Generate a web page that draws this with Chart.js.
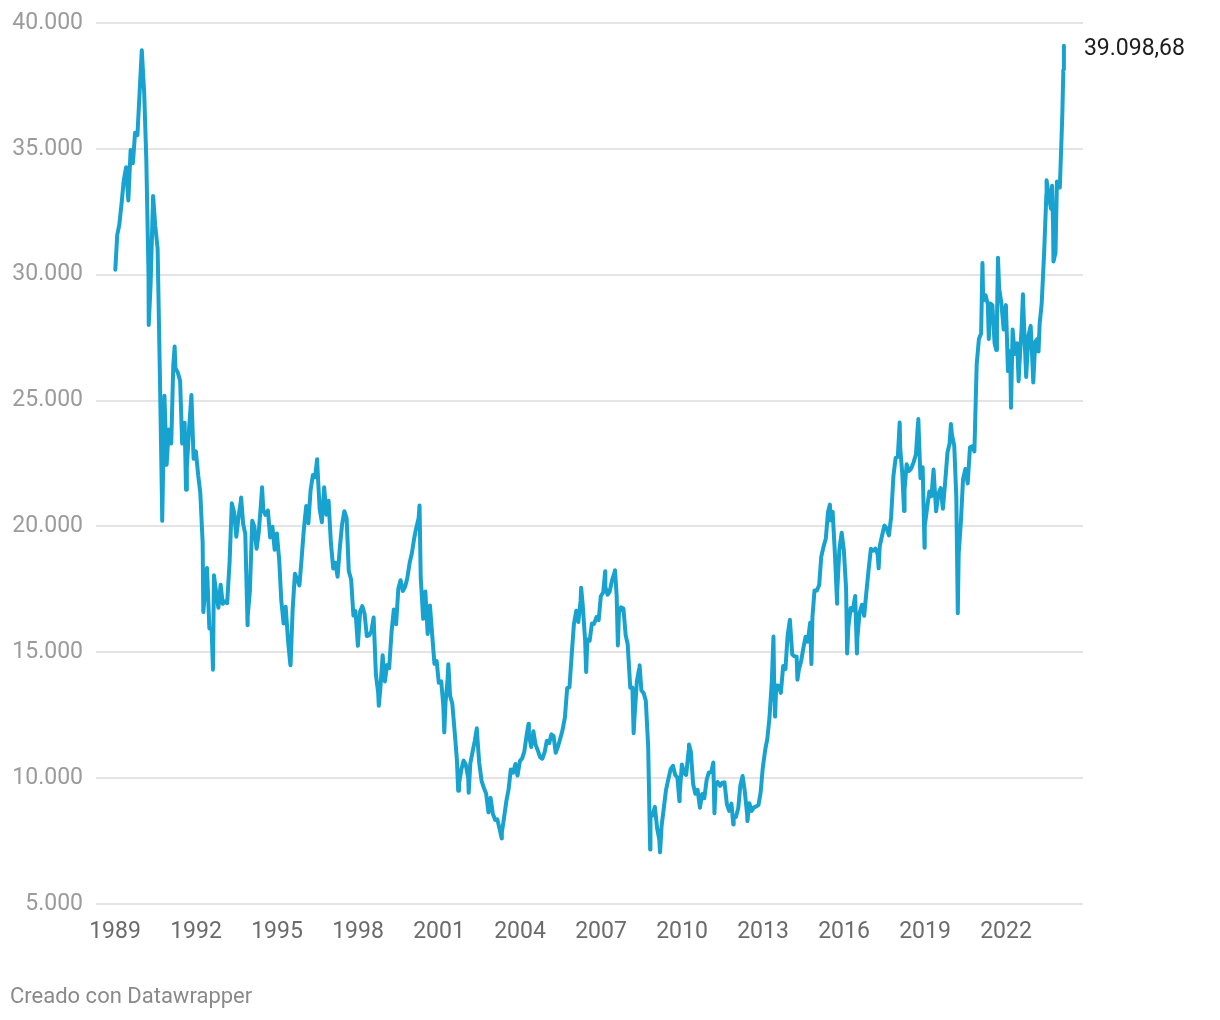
<!DOCTYPE html>
<html>
<head>
<meta charset="utf-8">
<script src="https://cdn.jsdelivr.net/npm/chart.js@4"></script>
<style>
  html, body { margin: 0; padding: 0; background: #ffffff; }
  #wrap { position: relative; width: 1220px; height: 1020px; }
  #footer { position: absolute; left: 10px; top: 984px; font-family: Roboto, "Noto Sans", sans-serif; font-size: 22px; line-height: 24px; color: #8a8a8a; }
</style>
</head>
<body>
<div id="wrap">
  <canvas id="c" width="1220" height="1020"></canvas>
  <div id="footer">Creado con Datawrapper</div>
</div>
<script>
// ---- Data (Nikkei 225) ----
const dates = [
"1989-01-05","1989-01-31","1989-02-28","1989-03-31","1989-04-28","1989-05-31","1989-06-30","1989-07-31","1989-08-31","1989-09-29","1989-10-31","1989-11-30","1989-12-29",
"1990-01-31","1990-02-28","1990-03-30","1990-04-02","1990-04-27","1990-05-31","1990-06-29","1990-07-31","1990-08-31","1990-09-28","1990-10-01","1990-10-31","1990-11-30","1990-12-28",
"1991-01-31","1991-02-28","1991-03-18","1991-03-29","1991-04-30","1991-05-31","1991-06-28","1991-07-31","1991-08-19","1991-08-30","1991-09-30","1991-10-31","1991-11-29","1991-12-30",
"1992-01-31","1992-02-28","1992-03-31","1992-04-09","1992-04-30","1992-05-29","1992-06-30","1992-07-31","1992-08-18","1992-08-31","1992-09-30","1992-10-30","1992-11-30","1992-12-28",
"1993-01-29","1993-02-26","1993-03-31","1993-04-30","1993-05-31","1993-06-30","1993-07-30","1993-08-31","1993-09-03","1993-09-30","1993-10-29","1993-11-29","1993-11-30","1993-12-30",
"1994-01-31","1994-02-28","1994-03-31","1994-04-28","1994-05-31","1994-06-13","1994-06-30","1994-07-29","1994-08-31","1994-09-30","1994-10-31","1994-11-30","1994-12-30",
"1995-01-31","1995-02-28","1995-03-31","1995-04-28","1995-05-31","1995-06-30","1995-07-03","1995-07-31","1995-08-31","1995-09-29","1995-10-31","1995-11-30","1995-12-29",
"1996-01-31","1996-02-29","1996-03-29","1996-04-30","1996-05-31","1996-06-26","1996-06-28","1996-07-31","1996-08-30","1996-09-30","1996-10-31","1996-11-29","1996-12-30",
"1997-01-31","1997-02-28","1997-03-31","1997-04-30","1997-05-30","1997-06-30","1997-07-31","1997-08-29","1997-09-30","1997-10-31","1997-11-28","1997-12-30",
"1998-01-30","1998-02-27","1998-03-31","1998-04-30","1998-05-29","1998-06-30","1998-07-31","1998-08-31","1998-09-30","1998-10-09","1998-10-30","1998-11-30","1998-12-30",
"1999-01-29","1999-02-26","1999-03-31","1999-04-30","1999-05-31","1999-06-30","1999-07-30","1999-08-31","1999-09-30","1999-10-29","1999-11-30","1999-12-30",
"2000-01-31","2000-02-29","2000-03-31","2000-04-12","2000-04-28","2000-05-31","2000-06-30","2000-07-31","2000-08-31","2000-09-29","2000-10-31","2000-11-30","2000-12-29",
"2001-01-31","2001-02-28","2001-03-13","2001-03-30","2001-04-27","2001-05-07","2001-05-31","2001-06-29","2001-07-31","2001-08-31","2001-09-17","2001-09-28","2001-10-31","2001-11-30","2001-12-28",
"2002-01-31","2002-02-06","2002-02-28","2002-03-29","2002-04-30","2002-05-27","2002-05-31","2002-06-28","2002-07-31","2002-08-30","2002-09-30","2002-10-31","2002-11-29","2002-12-30",
"2003-01-31","2003-02-28","2003-03-31","2003-04-28","2003-04-30","2003-05-30","2003-06-30","2003-07-31","2003-08-29","2003-09-30","2003-10-31","2003-11-28","2003-12-30",
"2004-01-30","2004-02-27","2004-03-31","2004-04-26","2004-04-30","2004-05-31","2004-06-30","2004-07-30","2004-08-31","2004-09-30","2004-10-29","2004-11-30","2004-12-30",
"2005-01-31","2005-02-28","2005-03-31","2005-04-28","2005-05-31","2005-06-30","2005-07-29","2005-08-31","2005-09-30","2005-10-31","2005-11-30","2005-12-30",
"2006-01-31","2006-02-28","2006-03-31","2006-04-07","2006-04-28","2006-05-31","2006-06-14","2006-06-30","2006-07-31","2006-08-31","2006-09-29","2006-10-31","2006-11-30","2006-12-29",
"2007-01-31","2007-02-26","2007-02-28","2007-03-30","2007-04-27","2007-05-31","2007-06-29","2007-07-09","2007-07-31","2007-08-17","2007-08-31","2007-09-28","2007-10-31","2007-11-30","2007-12-28",
"2008-01-31","2008-02-29","2008-03-17","2008-03-31","2008-04-30","2008-05-30","2008-06-06","2008-06-30","2008-07-31","2008-08-29","2008-09-30","2008-10-27","2008-10-31","2008-11-28","2008-12-30",
"2009-01-30","2009-02-27","2009-03-10","2009-03-31","2009-04-30","2009-05-29","2009-06-30","2009-07-31","2009-08-31","2009-09-30","2009-10-30","2009-11-27","2009-11-30","2009-12-30",
"2010-01-29","2010-02-26","2010-03-31","2010-04-05","2010-04-30","2010-05-31","2010-06-30","2010-07-30","2010-08-31","2010-09-30","2010-10-29","2010-11-30","2010-12-30",
"2011-01-31","2011-02-28","2011-03-15","2011-03-31","2011-04-28","2011-05-31","2011-06-30","2011-07-29","2011-08-31","2011-09-30","2011-10-31","2011-11-25","2011-11-30","2011-12-30",
"2012-01-31","2012-02-29","2012-03-30","2012-04-27","2012-05-31","2012-06-04","2012-06-29","2012-07-31","2012-08-31","2012-09-28","2012-10-31","2012-11-30","2012-12-28",
"2013-01-31","2013-02-28","2013-03-29","2013-04-30","2013-05-22","2013-05-31","2013-06-13","2013-06-28","2013-07-31","2013-08-30","2013-09-30","2013-10-31","2013-11-29","2013-12-30",
"2014-01-31","2014-02-28","2014-03-31","2014-04-11","2014-04-30","2014-05-30","2014-06-30","2014-07-31","2014-08-29","2014-09-30","2014-10-17","2014-10-31","2014-11-28","2014-12-30",
"2015-01-30","2015-02-27","2015-03-31","2015-04-30","2015-05-29","2015-06-24","2015-06-30","2015-07-31","2015-08-31","2015-09-29","2015-09-30","2015-10-30","2015-11-30","2015-12-30",
"2016-01-29","2016-02-12","2016-02-29","2016-03-31","2016-04-29","2016-05-31","2016-06-24","2016-06-30","2016-07-29","2016-08-31","2016-09-30","2016-10-31","2016-11-30","2016-12-30",
"2017-01-31","2017-02-28","2017-03-31","2017-04-14","2017-04-28","2017-05-31","2017-06-30","2017-07-31","2017-08-31","2017-09-29","2017-10-31","2017-11-30","2017-12-29",
"2018-01-23","2018-01-31","2018-02-28","2018-03-23","2018-03-30","2018-04-27","2018-05-31","2018-06-29","2018-07-31","2018-08-31","2018-09-28","2018-10-02","2018-10-31","2018-11-30","2018-12-25","2018-12-28",
"2019-01-31","2019-02-28","2019-03-29","2019-04-26","2019-05-31","2019-06-28","2019-07-31","2019-08-30","2019-09-30","2019-10-31","2019-11-29","2019-12-17","2019-12-30",
"2020-01-31","2020-02-28","2020-03-19","2020-03-31","2020-04-30","2020-05-29","2020-06-30","2020-07-31","2020-08-31","2020-09-30","2020-10-30","2020-11-30","2020-12-30",
"2021-01-29","2021-02-16","2021-02-26","2021-03-31","2021-04-30","2021-05-13","2021-05-31","2021-06-30","2021-07-30","2021-08-20","2021-08-31","2021-09-14","2021-09-30","2021-10-29","2021-11-30","2021-12-30",
"2022-01-27","2022-01-31","2022-02-28","2022-03-09","2022-03-31","2022-04-28","2022-05-31","2022-06-20","2022-06-30","2022-07-29","2022-08-17","2022-08-31","2022-09-30","2022-10-31","2022-11-30","2022-12-30",
"2023-01-04","2023-01-31","2023-02-28","2023-03-16","2023-03-31","2023-04-28","2023-05-31","2023-06-30","2023-07-03","2023-07-31","2023-08-31","2023-09-15","2023-09-29","2023-10-04","2023-10-31","2023-11-20","2023-11-30","2023-12-29",
"2024-01-31","2024-02-15","2024-02-22"
];
const values = [
30200,31581,31985,32839,33713,34266,32949,34954,34431,35637,35549,37269,38915,
37189,34591,29980,28002,29584,33130,31940,31035,25978,20984,20221,25194,22454,23848,
23293,26409,27146,26292,26111,25789,23291,24121,21456,22335,23916,25222,22687,22984,
22023,21339,19346,16598,17391,18348,15952,15910,14309,18061,17399,16767,17683,16925,
17024,16953,18591,20919,20552,19591,20380,21027,21148,20106,19703,16078,16408,17417,
20229,19997,19112,19725,20974,21552,20643,20462,20629,19564,19990,19076,19723,
18650,17053,16140,16807,15437,14517,14485,16678,18117,17913,17655,18744,19868,
20813,20125,21407,22041,21956,22666,22531,20693,20167,21556,20466,21020,19361,
18330,18557,18003,19151,20068,20605,20331,18229,17888,16459,16636,15259,
16628,16832,16527,15641,15671,15830,16379,14108,13406,12880,13564,14883,13842,
14499,14368,15837,16701,16112,17530,17862,17437,17605,17942,18558,18934,
19540,19960,20337,20833,17974,16332,17411,15727,16861,15747,14540,14649,13786,
13843,12883,11820,12999,13934,14529,13262,12969,11860,10713,9504,9775,10366,10697,10543,
9997,9420,10588,11025,11493,11979,11764,10622,9878,9619,9383,8640,9216,8579,
8340,8363,7973,7607,7831,8425,9083,9563,10344,10219,10560,10101,10677,
10784,11042,11715,12163,11762,11236,11859,11326,11082,10824,10771,11031,11489,
11388,11740,11669,11009,11277,11584,11900,12414,13574,13607,14872,16111,
16650,16206,17060,17563,16906,15468,14219,15505,15457,16141,16128,16399,16274,17226,
17383,18215,17604,17288,17400,17876,18138,18262,17249,15273,16569,16786,16737,15681,15308,
13592,13604,11787,12526,13850,14339,14489,13481,13377,13073,11260,7163,8577,8512,8860,
7994,7568,7055,8110,8828,9522,9958,10357,10492,10133,10034,9081,9345,10546,
10198,10126,11089,11339,11057,9768,9382,9537,8824,9369,9202,9937,10228,
10237,10624,8605,9755,9849,9693,9816,9833,8955,8700,8988,8160,8434,8455,
8802,9723,10083,9520,8542,8295,9006,8695,8839,8870,8928,9446,10395,
11138,11559,12397,13860,15627,13774,12445,13677,13668,13388,14455,14327,15661,16291,
14914,14841,14827,13910,14304,14632,15162,15620,15425,16173,14532,16413,17459,17450,
17674,18797,19206,19520,20563,20868,20235,20585,18890,16930,17388,19083,19747,19033,
17518,14952,16026,16758,16666,17234,14952,15575,16569,16887,16449,17425,18308,19114,
19041,19118,18909,18335,19196,19650,20033,19925,19646,20356,22011,22724,22764,
24124,23098,22068,20617,21454,22467,22202,22305,22554,22865,24120,24271,21920,22351,19155,20015,
20773,21385,21206,22259,20601,21276,21522,20704,21756,22927,23294,24066,23657,
23205,21143,16553,18917,20194,21878,22288,21710,23140,23185,22977,26434,27444,
27663,30468,28966,29179,28813,27448,28860,28792,27284,27013,28090,30670,29453,28893,27822,28792,
26170,27002,26527,24718,27821,26848,27280,25771,26393,27802,29222,28092,25937,27587,27969,26095,
25717,27327,27446,26945,28041,28856,30888,33189,33753,33172,32619,33533,31858,30526,30859,33700,33487,33464,
36287,38157,39098.68
];
const yearTicks = [1989,1992,1995,1998,2001,2004,2007,2010,2013,2016,2019,2022];
const yTicks = [5000,10000,15000,20000,25000,30000,35000,40000];

// ---- helpers ----
function toDecimalYear(s) {
  const p = s.split('-').map(Number);
  const start = Date.UTC(p[0], 0, 1);
  const end = Date.UTC(p[0] + 1, 0, 1);
  const t = Date.UTC(p[0], p[1] - 1, p[2]);
  return p[0] + (t - start) / (end - start);
}
function fmtThousands(v) {
  return String(Math.round(v)).replace(/\B(?=(\d{3})+(?!\d))/g, '.');
}
function fmtValue(v) {
  const parts = v.toFixed(2).split('.');
  return parts[0].replace(/\B(?=(\d{3})+(?!\d))/g, '.') + ',' + parts[1];
}

const points = dates.map((d, i) => ({ x: toDecimalYear(d), y: values[i] }));
const FONT = 'Roboto, "Noto Sans", sans-serif';

const lastLabel = {
  id: 'lastLabel',
  afterDatasetsDraw(chart) {
    const meta = chart.getDatasetMeta(0);
    const el = meta.data[meta.data.length - 1];
    const ctx = chart.ctx;
    ctx.save();
    ctx.font = '23px ' + FONT;
    ctx.fillStyle = '#1d1d1d';
    ctx.textAlign = 'left';
    ctx.textBaseline = 'middle';
    ctx.fillText(fmtValue(values[values.length - 1]), el.x + 20, el.y + 4);
    ctx.restore();
  }
};

new Chart(document.getElementById('c'), {
  type: 'line',
  data: {
    datasets: [{
      data: points,
      borderColor: '#18a2cf',
      borderWidth: 4,
      pointRadius: 0,
      pointHoverRadius: 0,
      tension: 0,
      borderJoinStyle: 'round',
      borderCapStyle: 'round',
      fill: false,
      clip: false
    }]
  },
  options: {
    responsive: false,
    animation: false,
    events: [],
    layout: { padding: { left: 0, right: 137, top: 23, bottom: 0 } },
    plugins: { legend: { display: false }, tooltip: { enabled: false } },
    scales: {
      x: {
        type: 'linear',
        min: 1988.296,
        max: 2024.85,
        afterBuildTicks(scale) { scale.ticks = yearTicks.map(v => ({ value: v })); },
        afterFit(scale) { scale.height = 116; },
        grid: { display: false, drawTicks: false },
        border: { display: false },
        ticks: {
          autoSkip: false,
          maxRotation: 0,
          padding: 14,
          color: '#6b6b6b',
          font: { family: FONT, size: 23 },
          callback: v => String(v)
        }
      },
      y: {
        type: 'linear',
        min: 5000,
        max: 40000,
        afterBuildTicks(scale) { scale.ticks = yTicks.map(v => ({ value: v })); },
        afterFit(scale) { scale.width = 96; scale.paddingTop = 0; scale.paddingBottom = 0; },
        grid: { color: '#e4e4e4', lineWidth: 2, drawTicks: false },
        border: { display: false },
        ticks: {
          padding: 13,
          color: '#9b9b9b',
          font: { family: FONT, size: 23, lineHeight: 0.6 },
          callback: v => fmtThousands(v)
        }
      }
    }
  },
  plugins: [lastLabel]
});
</script>
</body>
</html>
